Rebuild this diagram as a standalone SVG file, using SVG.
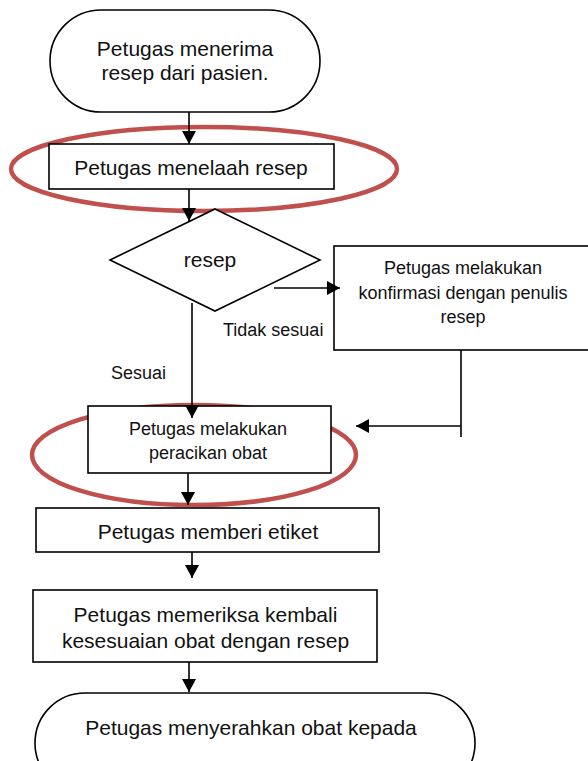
<svg xmlns="http://www.w3.org/2000/svg" width="588" height="761" viewBox="0 0 588 761">
<style>
  .node { fill: #ffffff; stroke: #000000; stroke-width: 1.6; }
  .hl { fill: none; stroke: #c0504d; stroke-width: 4.5; }
  .t { font-family: "Liberation Sans", Arial, sans-serif; fill: #111111; text-anchor: middle; }
  .big { font-size: 21px; }
  .small { font-size: 18px; }
  .lbl { font-family: "Liberation Sans", Arial, sans-serif; fill: #111111; font-size: 18px; }
  .conn { fill: none; stroke: #000000; stroke-width: 1.6; }
</style>
<defs>
  <marker id="arrow" markerUnits="userSpaceOnUse" markerWidth="14" markerHeight="14" refX="13" refY="7" orient="auto">
    <path d="M0,0 L13,7 L0,14 z" fill="#000000"/>
  </marker>
</defs>
<rect width="588" height="761" fill="#ffffff"/>

<g id="highlights">
  <ellipse class="hl" cx="204" cy="169" rx="193" ry="42"/>
  <ellipse class="hl" cx="194" cy="455" rx="162" ry="50"/>
</g>

<g id="start">
  <rect class="node" x="50" y="10" width="270" height="102" rx="51" ry="51"/>
  <text class="t big" x="185" y="56">Petugas menerima</text>
  <text class="t big" x="185" y="80">resep dari pasien.</text>
</g>

<g id="telaah">
  <rect class="node" x="49" y="144" width="285" height="45"/>
  <text class="t big" x="191" y="175">Petugas menelaah resep</text>
</g>

<g id="decision">
  <polygon class="node" points="215,209 320,260 215,311 110,260"/>
  <text class="t big" x="210" y="267">resep</text>
</g>

<g id="konfirmasi">
  <rect class="node" x="334" y="246" width="270" height="104"/>
  <text class="t small" x="463" y="274">Petugas melakukan</text>
  <text class="t small" x="463" y="299">konfirmasi dengan penulis</text>
  <text class="t small" x="463" y="323">resep</text>
</g>

<g id="peracikan">
  <rect class="node" x="88" y="406" width="243" height="67"/>
  <text class="t small" x="208" y="435">Petugas melakukan</text>
  <text class="t small" x="208" y="459">peracikan obat</text>
</g>

<g id="etiket">
  <rect class="node" x="36" y="508" width="343" height="44"/>
  <text class="t big" x="208" y="539">Petugas memberi etiket</text>
</g>

<g id="periksa">
  <rect class="node" x="33" y="590" width="344" height="72"/>
  <text class="t big" x="205.5" y="622">Petugas memeriksa kembali</text>
  <text class="t big" x="205.5" y="648">kesesuaian obat dengan resep</text>
</g>

<g id="end">
  <rect class="node" x="35" y="693" width="440" height="100" rx="50" ry="50"/>
  <text class="t big" x="251" y="735">Petugas menyerahkan obat kepada</text>
</g>

<g id="connectors">
  <line class="conn" x1="189" y1="112" x2="189" y2="144" marker-end="url(#arrow)"/>
  <line class="conn" x1="189" y1="189" x2="189" y2="221" marker-end="url(#arrow)"/>
  <line class="conn" x1="274" y1="288" x2="340" y2="288" marker-end="url(#arrow)"/>
  <line class="conn" x1="192" y1="303" x2="192" y2="418" marker-end="url(#arrow)"/>
  <line class="conn" x1="461" y1="350" x2="461" y2="437"/>
  <line class="conn" x1="461" y1="426" x2="356" y2="426" marker-end="url(#arrow)"/>
  <line class="conn" x1="188" y1="473" x2="188" y2="505" marker-end="url(#arrow)"/>
  <line class="conn" x1="192" y1="552" x2="192" y2="578" marker-end="url(#arrow)"/>
  <line class="conn" x1="189" y1="662" x2="189" y2="692" marker-end="url(#arrow)"/>
  <text class="lbl" x="223" y="336">Tidak sesuai</text>
  <text class="lbl" x="111" y="379">Sesuai</text>
</g>
</svg>
